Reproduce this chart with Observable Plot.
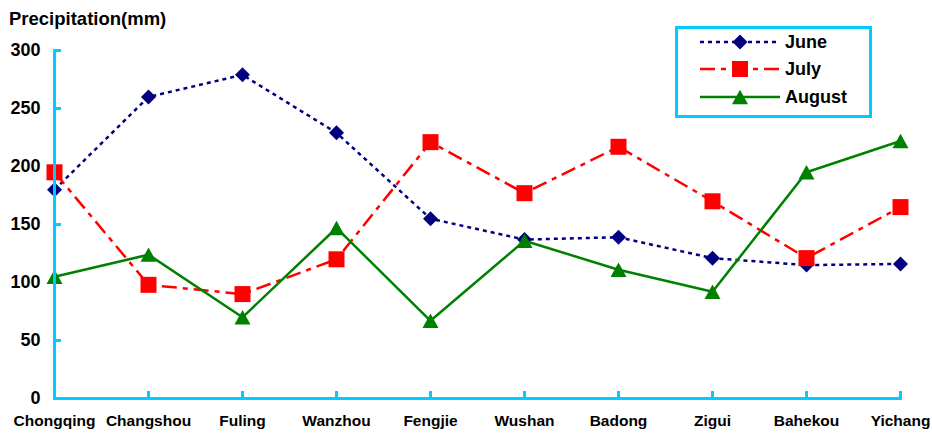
<!DOCTYPE html>
<html>
<head>
<meta charset="utf-8">
<script src="https://cdn.jsdelivr.net/npm/d3@7"></script>
<script src="https://cdn.jsdelivr.net/npm/@observablehq/plot@0.6"></script>
<style>
  body { margin: 0; background: #fff; font-family: "Liberation Sans", Arial, sans-serif; }
  #wrap { position: relative; width: 932px; height: 436px; }
  #title { position: absolute; left: 9px; top: 8px; font-weight: bold; font-size: 18.5px; color: #000; white-space: nowrap; }
  #legend { position: absolute; left: 675px; top: 26px; }
</style>
</head>
<body>
<div id="wrap">
  <div id="chart"></div>
  <div id="title">Precipitation(mm)</div>
  <div id="legend"></div>
</div>
<script>
// ---- data ----
const stations = ["Chongqing", "Changshou", "Fuling", "Wanzhou", "Fengjie", "Wushan", "Badong", "Zigui", "Bahekou", "Yichang"];
const june   = [180, 260, 279, 229, 155, 137, 139, 121, 115, 116];
const july   = [195,  98,  90, 120, 221, 177, 217, 170, 121, 165];
const august = [105, 124,  70, 147,  67, 136, 111,  92, 195, 222];
const yTicks = [0, 50, 100, 150, 200, 250, 300];
const seriesNames = ["June", "July", "August"];

// ---- styles ----
const axisColor = "#00ccff";
const font = "Liberation Sans, Arial, sans-serif";

// custom marker shapes (size = r^2 * pi in Plot)
const half = size => Math.sqrt(size / Math.PI);
const diamond = { draw(c, size) { const h = half(size); c.moveTo(0, -h); c.lineTo(h, 0); c.lineTo(0, h); c.lineTo(-h, 0); c.closePath(); } };
const square = { draw(c, size) { const h = half(size); c.rect(-h, -h, 2 * h, 2 * h); } };
const triangle = { draw(c, size) { const h = half(size); const v = h * 0.9; c.moveTo(0, -v); c.lineTo(h, v); c.lineTo(-h, v); c.closePath(); } };

const series = [
  { name: seriesNames[0], values: june,   color: "#000080", dash: "4,4",        symbol: diamond,  r: 7.5 },
  { name: seriesNames[1], values: july,   color: "#ff0000", dash: "15,6,5,6",   symbol: square,   r: 8 },
  { name: seriesNames[2], values: august, color: "#008000", dash: null,         symbol: triangle, r: 8 }
];

const marks = [];
for (const s of series) {
  marks.push(Plot.line(s.values, {
    x: (d, i) => stations[i], y: d => d,
    stroke: s.color, strokeWidth: 2.5, strokeDasharray: s.dash,
    strokeLinecap: "butt", strokeLinejoin: "miter"
  }));
  marks.push(Plot.dot(s.values, {
    x: (d, i) => stations[i], y: d => d,
    symbol: s.symbol, r: s.r, fill: s.color, stroke: "none"
  }));
}

const chart = Plot.plot({
  width: 932,
  height: 436,
  marginLeft: 54,
  marginRight: 32,
  marginTop: 50,
  marginBottom: 38,
  style: { fontFamily: font, background: "#fff", color: "#000" },
  x: { type: "point", domain: stations, padding: 0, label: null },
  y: { domain: [0, 300], ticks: yTicks, label: null },
  marks: [
    // axis tick marks (inward)
    Plot.axisY(yTicks, { tickSize: 7, dx: 7, tickFormat: () => "", stroke: axisColor, strokeWidth: 3 }),
    Plot.axisX(stations, { tickSize: 7, dy: -7, tickFormat: () => "", stroke: axisColor, strokeWidth: 3 }),
    // axis labels
    Plot.axisY(yTicks, { tickSize: 0, tickPadding: 14, fontSize: 18, fontWeight: "bold", label: null }),
    Plot.axisX(stations, { tickSize: 0, tickPadding: 16, fontSize: 15.5, fontWeight: "bold", label: null }),
    ...marks,
    // axis lines
    Plot.frame({ anchor: "left", stroke: axisColor, strokeWidth: 3 }),
    Plot.frame({ anchor: "bottom", stroke: axisColor, strokeWidth: 3 })
  ]
});
document.getElementById("chart").appendChild(chart);

// ---- legend ----
const lw = 197, lh = 92;
const lsvg = d3.select("#legend").append("svg")
  .attr("width", lw).attr("height", lh)
  .style("font-family", font);
lsvg.append("rect")
  .attr("x", 1.5).attr("y", 1.5).attr("width", lw - 3).attr("height", lh - 3)
  .attr("fill", "#fff").attr("stroke", axisColor).attr("stroke-width", 3);
const rowY = [16, 43, 71];
series.forEach((s, i) => {
  const g = lsvg.append("g").attr("transform", `translate(0,${rowY[i]})`);
  g.append("line").attr("x1", 25).attr("x2", 105).attr("y1", 0).attr("y2", 0)
    .attr("stroke", s.color).attr("stroke-width", 2.5)
    .attr("stroke-dasharray", s.dash).attr("stroke-linecap", "butt");
  g.append("path").attr("transform", "translate(65,0)")
    .attr("d", d3.symbol(s.symbol, s.r * s.r * Math.PI)())
    .attr("fill", s.color);
  g.append("text").attr("x", 110).attr("y", 0).attr("dy", "0.35em")
    .attr("font-size", 18).attr("font-weight", "bold").attr("fill", "#000")
    .text(s.name);
});
</script>
</body>
</html>
